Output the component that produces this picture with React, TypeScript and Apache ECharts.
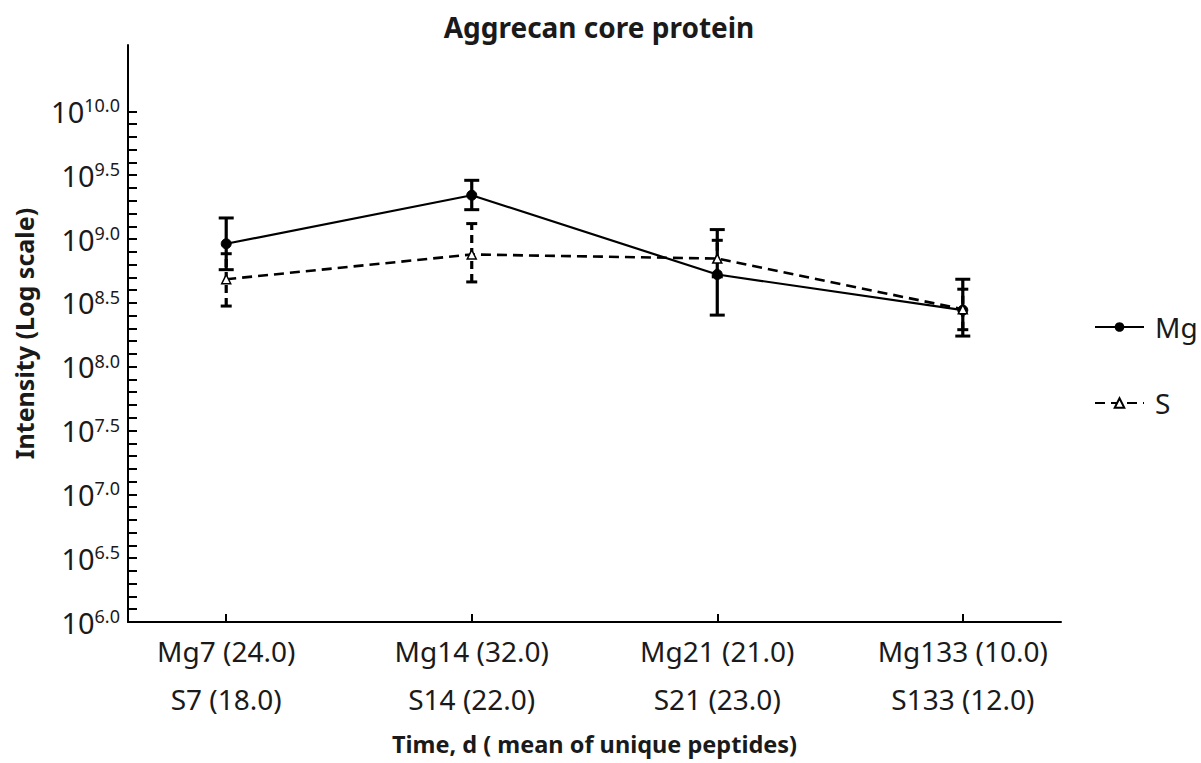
import React, { useEffect, useRef } from "react";
import * as echarts from "echarts";

const categoriesMg = ["Mg7 (24.0)", "Mg14 (32.0)", "Mg21 (21.0)", "Mg133 (10.0)"];
const categoriesS = ["S7 (18.0)", "S14 (22.0)", "S21 (23.0)", "S133 (12.0)"];
const xPositions = [0, 1, 2, 3];

// log10 intensity values
const mgMean = [8.963, 9.343, 8.722, 8.443];
const mgLow = [8.76, 9.23, 8.404, 8.24];
const mgHigh = [9.165, 9.46, 9.074, 8.685];

const sMean = [8.685, 8.879, 8.847, 8.45];
const sLow = [8.475, 8.664, 8.704, 8.29];
const sHigh = [8.885, 9.121, 8.99, 8.607];

const yLabelValues = [6.0, 6.5, 7.0, 7.5, 8.0, 8.5, 9.0, 9.5, 10.0];
const yTickValues = Array.from({ length: 41 }, (_, i) => Math.round((6 + i * 0.1) * 10) / 10);

const FONT = "'Noto Sans', 'Open Sans', sans-serif";
const INK = "#1a1a1a";

function errorBarSeries(name: string, low: number[], high: number[], dashed: boolean, capHalf: number) {
  return {
    type: "custom",
    name,
    silent: true,
    z: 3,
    data: xPositions.map((x, i) => [x, low[i], high[i]]),
    encode: { x: 0, y: [1, 2] },
    renderItem: (params: any, api: any) => {
      const x = api.value(0);
      const lo = api.coord([x, api.value(1)]);
      const hi = api.coord([x, api.value(2)]);
      const style = {
        stroke: "#000",
        lineWidth: 3.2,
        lineDash: dashed ? [8, 5] : null,
      };
      return {
        type: "group",
        children: [
          { type: "line", shape: { x1: lo[0], y1: lo[1], x2: hi[0], y2: hi[1] }, style },
          { type: "line", shape: { x1: hi[0] - capHalf, y1: hi[1], x2: hi[0] + capHalf, y2: hi[1] }, style: { stroke: "#000", lineWidth: 3 } },
          { type: "line", shape: { x1: lo[0] - capHalf, y1: lo[1], x2: lo[0] + capHalf, y2: lo[1] }, style: { stroke: "#000", lineWidth: 3 } },
        ],
      };
    },
  };
}

export default function App() {
  const ref = useRef<HTMLDivElement>(null);
  useEffect(() => {
    if (!ref.current) return;
    const chart = echarts.init(ref.current, null, { renderer: "svg" });
    chart.setOption({
      animation: false,
      backgroundColor: "#ffffff",
      title: {
        text: "Aggrecan core protein",
        left: 594,
        textAlign: "center",
        top: 8,
        textStyle: { fontFamily: FONT, fontSize: 28, fontWeight: "bold", color: INK },
      },
      legend: {
        data: ["Mg", "S"],
        orient: "vertical",
        left: 1089,
        top: 305,
        itemWidth: 49,
        itemHeight: 12,
        itemGap: 42,
        textStyle: { fontFamily: FONT, fontSize: 28, color: INK, lineHeight: 34, padding: [0, 0, 0, 6] },
      },
      grid: { left: 128, right: 140, top: 45, bottom: 141, containLabel: false },
      xAxis: {
        type: "value",
        min: -0.4,
        max: 3.4,
        name: "Time, d ( mean of unique peptides)",
        nameLocation: "middle",
        nameGap: 110,
        nameTextStyle: { fontFamily: FONT, fontSize: 23.5, fontWeight: "bold", color: INK },
        axisLine: { show: true, onZero: false, lineStyle: { color: "#000", width: 2 } },
        axisTick: { show: true, inside: true, length: 8, customValues: xPositions, lineStyle: { color: "#000", width: 2 } },
        axisLabel: {
          customValues: xPositions,
          formatter: (v: number) => `${categoriesMg[Math.round(v)]}\n${categoriesS[Math.round(v)]}`,
          fontFamily: FONT,
          fontSize: 28,
          lineHeight: 48,
          color: INK,
          margin: 5,
        },
        splitLine: { show: false },
      },
      yAxis: {
        type: "value",
        min: 6,
        max: 10.52,
        name: "Intensity (Log scale)",
        nameLocation: "middle",
        nameGap: 92,
        nameTextStyle: { fontFamily: FONT, fontSize: 25, fontWeight: "bold", color: INK },
        axisLine: { show: true, onZero: false, lineStyle: { color: "#000", width: 2 } },
        axisTick: { show: true, inside: true, length: 9, customValues: yTickValues, lineStyle: { color: "#000", width: 2 } },
        axisLabel: {
          customValues: yLabelValues,
          margin: 8,
          formatter: (v: number) => `{b|10}{s|${v.toFixed(1)}}`,
          rich: {
            b: { fontFamily: FONT, fontSize: 29, color: INK, lineHeight: 30 },
            s: { fontFamily: FONT, fontSize: 18, color: INK, verticalAlign: "top", lineHeight: 18 },
          },
        },
        splitLine: { show: false },
      },
      series: [
        errorBarSeries("Mg error", mgLow, mgHigh, false, 7.5),
        errorBarSeries("S error", sLow, sHigh, true, 5.5),
        {
          name: "Mg",
          type: "line",
          z: 4,
          data: xPositions.map((x, i) => [x, mgMean[i]]),
          symbol: "circle",
          symbolSize: 10,
          lineStyle: { color: "#000", width: 2.2, type: "solid" },
          itemStyle: { color: "#000", borderColor: "#000" },
        },
        {
          name: "S",
          type: "line",
          z: 4,
          data: xPositions.map((x, i) => [x, sMean[i]]),
          symbol: "triangle",
          symbolSize: 9,
          lineStyle: { color: "#000", width: 2.6, type: [10, 6] },
          itemStyle: { color: "#ffffff", borderColor: "#000", borderWidth: 1.5 },
        },
      ],
    });
    return () => chart.dispose();
  }, []);
  return <div ref={ref} style={{ position: "fixed", left: 0, top: 0, width: 1201, height: 763 }} />;
}
